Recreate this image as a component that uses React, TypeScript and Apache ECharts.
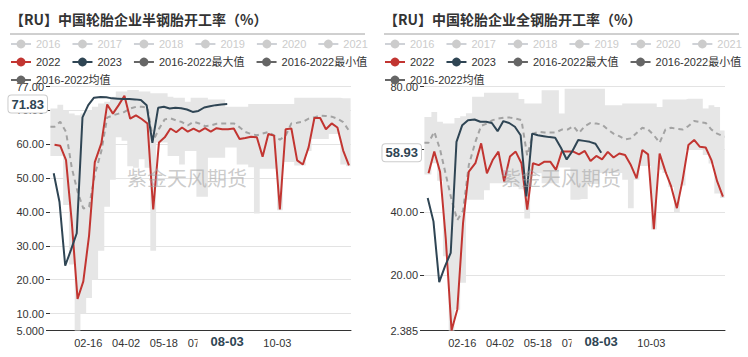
import React, { useEffect, useRef } from 'react';
import * as echarts from 'echarts';

// ---------- axis categories (leap-year calendar, MM-DD) ----------
const monthLengths = [31, 29, 31, 30, 31, 30, 31, 31, 30, 31, 30, 31];
const days: string[] = [];
monthLengths.forEach((n, m) => {
  for (let d = 1; d <= n; d++) days.push(`${String(m + 1).padStart(2, '0')}-${String(d).padStart(2, '0')}`);
});
const xTickLabels = ['02-16', '04-02', '05-18', '07-03', '08-18', '10-03'];
const pointerDay = '08-03';

const yearNames = ['2016', '2017', '2018', '2019', '2020', '2021'];
const maxName = '2016-2022最大值';
const minName = '2016-2022最小值';
const avgName = '2016-2022均值';

// ---------- weekly dates ----------
const weeks2022 = ['01-06','01-13','01-20','01-27','02-03','02-10','02-17','02-24','03-03','03-10','03-17','03-24','03-31','04-07','04-14','04-21','04-28','05-05','05-12','05-19','05-26','06-02','06-09','06-16','06-23','06-30','07-07','07-14','07-21','07-28','08-04','08-11','08-18','08-25','09-01','09-08','09-15','09-22','09-29','10-06','10-13','10-20','10-27','11-03','11-10','11-17','11-24','12-01','12-08','12-15','12-22','12-29'];
const weeks2023 = ['01-05','01-12','01-19','01-26','02-02','02-09','02-16','02-23','03-02','03-09','03-16','03-23','03-30','04-06','04-13','04-20','04-27','05-04','05-11','05-18','05-25','06-01','06-08','06-15','06-22','06-29','07-06','07-13','07-20','07-27','08-03'];
const bandDays = ['01-01', ...weeks2022, '12-31'];

// ---------- semi-steel tyre operating rate ----------
const semi2022 = [59.8,59.5,55.3,37,14.3,19.5,33,54.7,60.3,71.7,69,71.5,74.3,67.5,68.5,67.4,66.1,40.7,60.5,62,64.6,63.5,64.9,63.7,64.6,63.7,64.7,63.7,64.7,64.4,64.4,64.6,61.5,61.8,62.2,62.0,56.3,63.0,62.5,40.7,64.4,64.6,55.2,54.0,59.1,67.7,67.7,64.4,66.1,64.9,58.1,53.7];
const semi2023 = [51.4,43,24.1,28.8,33.7,67.9,71.5,73.7,73.9,73.8,73.5,73.4,73.3,73.3,73.2,73.0,71.5,60.4,70.7,71.0,70.5,70.7,70.6,70.2,69.5,69.8,70.8,71.2,71.5,71.7,71.83];
const semiMax = [70.5,70.5,71.6,70,69,68.5,69,70,71,72,72.5,74,75.5,75.5,76,76,75.5,75.5,75,75,75,74,73.7,73.7,72.5,73.7,73.7,73.7,73.2,73.2,73.2,71,71,71,71,71.8,71.8,71.8,71.8,71.8,71.8,71.8,71.8,73.7,73.7,73.7,73.7,73.7,73.7,73.7,73.7,73.5,73.5,73.5];
const semiMin = [56.5,56.5,56.5,42,24.5,5,10,14.6,20,28.5,41.5,49.5,62,61,53.5,53,55.5,53,28.5,60.5,60.5,56.5,56.5,54,58,58,44.5,44.5,56,56,56,59,59,54,54,53.2,39.5,52.7,52.7,52.7,40.5,54.7,54.7,53.7,53.7,58,61.5,61.5,61.5,63,63,54,53.5,53.5];
const semiAvg = [65.1,65.1,66.6,63.6,53,46,41,41.5,51,58,67.8,68.5,69,69.5,70.5,71,71,70.8,61,64.5,67.3,67.6,67,66.5,65.5,66.6,66.1,65.3,65.5,66,66.1,66.1,66.1,65,63.6,63,62.6,63.1,63.6,62.5,61.3,62.5,66.1,66.3,66.6,67.5,67.9,68.4,68.3,68.1,67.5,66.5,64,63.6];

// ---------- all-steel tyre operating rate ----------
const all2022 = [52.4,59.3,52.9,31.5,2.385,9.1,36.6,52.9,55.6,61.9,52.4,56.6,59.3,49.8,57.7,59.3,55.6,40.8,55.6,55.0,56.1,56.1,53.5,59.3,59.3,59.3,58.4,59.5,56.3,57.9,56.8,59.2,57.4,58.7,58.2,55.0,50.8,59.8,58.4,34.6,58.7,53.0,48.2,41.3,50.3,61.4,63.0,60.8,60.6,56.6,49.8,45.0];
const all2023 = [44.5,37.1,17.8,22.8,27.1,62.4,67.7,69.3,69.5,68.8,68.8,68.4,65.8,69.0,68.4,67.2,64.5,45.0,65.0,64.5,64.2,63.9,63.7,60.5,56.8,59.5,63.0,62.7,62.4,61.8,58.93];
const allMax = [70.3,70.3,71.9,68.8,68.2,68.2,70,70.5,71.5,76.7,76.7,78,78,78,78,78,78,76,74.6,74.6,74.6,78.8,78.8,78.8,71.4,79.3,79.3,79.3,79.3,79.3,79.3,79.3,74,74,74,74.6,74.6,74.6,74.6,74.6,74.6,73.5,75.9,75.9,75.9,75.9,76.1,76.1,76.1,73,74,73.5,66,66];
const allMin = [52,52,55.6,50,26,2.385,9,17.6,44,44,44,47,49.2,49.2,49.2,49.2,48,47.3,38,52.4,52.4,49.2,49.2,49.2,54.2,54.2,44,44,44.2,49,49,52.5,52.5,52.5,52.5,50.3,41.3,50.3,54.7,54.7,34.5,53.5,52.5,48,40,48.5,59.8,59.8,59.8,58.2,55.5,46,44.5,44.5];
const allAvg = [62.1,62.1,65.6,60,52,44,37.5,40.5,55,62.4,67.5,68.2,69.3,69.8,70.1,70.1,69.8,69.3,58,65,65.6,65.4,65.4,65.4,66.3,66.3,67.4,65.2,67.4,68.4,68.2,67.9,66.3,65,64.2,63.2,63.5,65.2,66.9,66.3,64.5,62.1,66.3,66.9,66.5,66.3,67.4,69,68.7,68.4,66.3,65,64.2,64];

interface Cfg {
  title: string;
  yMin: number;
  yMax: number;
  r2022: number[];
  r2023: number[];
  max: number[];
  min: number[];
  avg: number[];
}

const semiCfg: Cfg = { title: '【RU】中国轮胎企业半钢胎开工率（%）', yMin: 5, yMax: 77, r2022: semi2022, r2023: semi2023, max: semiMax, min: semiMin, avg: semiAvg };
const allCfg: Cfg = { title: '【RU】中国轮胎企业全钢胎开工率（%）', yMin: 2.385, yMax: 80, r2022: all2022, r2023: all2023, max: allMax, min: allMin, avg: allAvg };

const FONT = 'Arial, "Liberation Sans", "Noto Sans CJK SC", sans-serif';

function buildOption(cfg: Cfg): any {
  const idx = (d: string) => days.indexOf(d);
  const pairs = (ds: string[], vs: number[]) => ds.map((d, i) => [idx(d), vs[i]]);
  const showTick = (_i: number, v: string) => xTickLabels.includes(v);
  const lastValue = cfg.r2023[cfg.r2023.length - 1];
  const grayLegend = { itemStyle: { color: '#666', opacity: 1 }, lineStyle: { color: '#666', width: 2, opacity: 1, type: 'solid' } };
  const legendBase = {
    left: 10, padding: 0, itemWidth: 20, itemHeight: 11, itemGap: 11,
    textStyle: { fontSize: 11, color: '#333', fontFamily: FONT }, inactiveColor: '#ccc',
    lineStyle: { type: 'solid' },
  };
  const selected: Record<string, boolean> = {};
  yearNames.forEach((n) => (selected[n] = false));

  return {
    animation: false,
    textStyle: { fontFamily: FONT },
    title: {
      text: cfg.title, left: 10, top: 12, padding: 0,
      textStyle: { fontSize: 14, fontWeight: 'bold', color: '#333', fontFamily: '"Noto Sans CJK SC", sans-serif' },
    },
    legend: [
      { ...legendBase, top: 38.5, data: yearNames, selected },
      { ...legendBase, top: 56.5, data: ['2022', '2023', { name: maxName, ...grayLegend }, { name: minName, ...grayLegend }] },
      { ...legendBase, top: 74.5, data: [{ name: avgName, ...grayLegend }] },
    ],
    grid: { left: 50, right: 23, top: 86.5, bottom: 26.5 },
    xAxis: {
      type: 'category', data: days, boundaryGap: true,
      axisLine: { lineStyle: { color: '#333' } },
      axisTick: { alignWithLabel: true, interval: showTick, length: 4, lineStyle: { color: '#333' } },
      axisLabel: { interval: showTick, color: '#333', fontSize: 11, margin: 7 },
      splitLine: { show: false },
      axisPointer: {
        show: true, type: 'none', status: 'show', value: idx(pointerDay),
        label: { show: true, backgroundColor: '#fff', color: '#2f4554', fontWeight: 'bold', fontSize: 13, padding: [1, 13], margin: 3, fontFamily: FONT },
      },
    },
    yAxis: {
      type: 'value', min: cfg.yMin, max: cfg.yMax,
      axisLine: { show: false },
      axisTick: { show: true, length: 4, lineStyle: { color: '#333' } },
      axisLabel: { color: '#333', fontSize: 11, margin: 6, formatter: (v: number) => Number(v).toPrecision(4) },
      splitLine: { lineStyle: { color: '#e3e3e3' } },
      axisPointer: {
        show: true, type: 'none', status: 'show', value: lastValue,
        label: {
          show: true, backgroundColor: '#fff', borderColor: '#ccc', borderWidth: 1, color: '#2f4554',
          fontWeight: 'bold', fontSize: 13, padding: [2, 3], margin: 3, fontFamily: FONT,
          formatter: (p: any) => Number(p.value).toFixed(2),
        },
      },
    },
    graphic: [
      { type: 'line', silent: true, shape: { x1: 10, y1: 34, x2: 365, y2: 34 }, style: { stroke: '#a0a0a0', lineWidth: 1 } },
      {
        type: 'text', silent: true, x: 187, y: 177, z: 100,
        style: { text: '紫金天风期货', fontSize: 20, fontFamily: '"Noto Sans CJK SC", sans-serif', fill: 'rgba(160,160,160,0.55)', textAlign: 'center', textVerticalAlign: 'middle' },
      },
    ],
    series: [
      ...yearNames.map((n) => ({ name: n, type: 'line', data: [], showSymbol: false, symbol: 'circle', itemStyle: { color: '#ccc' } })),
      {
        name: minName, type: 'line', stack: 'band', step: 'middle', z: 1,
        data: pairs(bandDays, cfg.min), showSymbol: false, symbol: 'circle',
        lineStyle: { opacity: 0 }, itemStyle: { color: '#666' },
      },
      {
        name: maxName, type: 'line', stack: 'band', step: 'middle', z: 1,
        data: pairs(bandDays, cfg.max.map((v, i) => v - cfg.min[i])), showSymbol: false, symbol: 'circle',
        lineStyle: { opacity: 0 }, itemStyle: { color: '#666' }, areaStyle: { color: '#e6e6e6', opacity: 1 },
      },
      {
        name: avgName, type: 'line', z: 3, data: pairs(bandDays, cfg.avg), showSymbol: false, symbol: 'circle',
        itemStyle: { color: '#666' }, lineStyle: { color: '#a3a3a3', width: 2, type: [5, 4] },
      },
      {
        name: '2022', type: 'line', z: 4, data: pairs(weeks2022, cfg.r2022), showSymbol: false, symbol: 'circle',
        itemStyle: { color: '#c23531' }, lineStyle: { color: '#c23531', width: 2 },
      },
      {
        name: '2023', type: 'line', z: 5, data: pairs(weeks2023, cfg.r2023), showSymbol: false, symbol: 'circle',
        itemStyle: { color: '#2f4554' }, lineStyle: { color: '#2f4554', width: 2 },
      },
    ],
  };
}

function Chart({ cfg }: { cfg: Cfg }) {
  const ref = useRef<HTMLDivElement>(null);
  useEffect(() => {
    if (!ref.current) return;
    const chart = echarts.init(ref.current, undefined, { renderer: 'svg' });
    chart.setOption(buildOption(cfg));
    return () => chart.dispose();
  }, [cfg]);
  return <div ref={ref} style={{ width: 374, height: 357 }} />;
}

export default function App() {
  return (
    <div style={{ position: 'fixed', left: 0, top: 0, width: 748, height: 357, display: 'flex', background: '#fff' }}>
      <Chart cfg={semiCfg} />
      <Chart cfg={allCfg} />
    </div>
  );
}
